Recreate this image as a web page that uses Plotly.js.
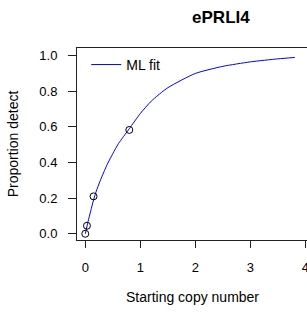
<!DOCTYPE html>
<html>
<head>
<meta charset="utf-8">
<script src="https://cdn.plot.ly/plotly-3.0.1.min.js"></script>
<style>
html,body{margin:0;padding:0;overflow:hidden;background:#fff;}
#chart{width:309px;height:312px;}
</style>
</head>
<body>
<div id="chart"></div>
<script>
// Observed data points
var copyNumber = [0, 0.03, 0.15, 0.8];
var propDetect = [0, 0.045, 0.21, 0.583];

// ML fit curve
var fitX = [0, 0.05, 0.1, 0.15, 0.2, 0.3, 0.4, 0.5, 0.6, 0.8, 1.0, 1.2, 1.5, 2.0, 2.5, 3.0, 3.5, 3.81];
var fitY = [0, 0.068, 0.13, 0.19, 0.24, 0.32, 0.39, 0.45, 0.505, 0.59, 0.675, 0.745, 0.82, 0.90, 0.94, 0.965, 0.982, 0.99];

var xTicks = [0, 1, 2, 3, 4];
var yTicks = [0, 0.2, 0.4, 0.6, 0.8, 1.0];
var yTickText = ["0.0", "0.2", "0.4", "0.6", "0.8", "1.0"];

var font = "Liberation Sans, Arial, sans-serif";

var traces = [
  {
    x: fitX, y: fitY, type: "scatter", mode: "lines",
    name: "ML fit", line: {color: "#0000ff", width: 1, shape: "spline", smoothing: 0.6},
    showlegend: true
  },
  {
    x: copyNumber, y: propDetect, type: "scatter", mode: "markers",
    name: "data", showlegend: false,
    marker: {symbol: "circle-open", size: 7, color: "#000", line: {width: 1, color: "#000"}}
  }
];

var layout = {
  width: 309, height: 312,
  margin: {l: 77, r: 1, t: 48, b: 72, pad: 0},
  paper_bgcolor: "#fff", plot_bgcolor: "#fff",
  font: {family: font, color: "#000", size: 13},
  title: {text: "<b>ePRLI4</b>", font: {family: font, size: 17, color: "#000"},
          x: 192.5/309, xanchor: "center", xref: "paper", y: 1 - 17/312, yanchor: "middle", yref: "container"},
  xaxis: {
    range: [-0.151, 4.049], tickvals: xTicks, ticktext: xTicks.map(String),
    ticks: "outside", ticklen: 7, tickcolor: "#222", tickwidth: 1,
    showgrid: false, zeroline: false, showline: true, mirror: true, linecolor: "#222", linewidth: 1,
    tickfont: {family: font, size: 13, color: "#000"}, ticklabelstandoff: 8,
    title: {text: "Starting copy number", font: {family: font, size: 14, color: "#000"}, standoff: 18}
  },
  yaxis: {
    range: [-0.035, 1.043], tickvals: yTicks, ticktext: yTickText,
    ticks: "outside", ticklen: 8, tickcolor: "#222", tickwidth: 1,
    showgrid: false, zeroline: false, showline: true, mirror: true, linecolor: "#222", linewidth: 1,
    tickfont: {family: font, size: 13, color: "#000"}, ticklabelstandoff: 8,
    title: {text: "Proportion detect", font: {family: font, size: 14, color: "#000"}, standoff: 17}
  },
  legend: {x: 0.04, y: 0.995, xanchor: "left", yanchor: "top", bgcolor: "rgba(0,0,0,0)",
           borderwidth: 0, font: {family: font, size: 14, color: "#000"}, itemwidth: 30},
  showlegend: true
};

Plotly.newPlot("chart", traces, layout, {displayModeBar: false, staticPlot: true});
</script>
</body>
</html>
